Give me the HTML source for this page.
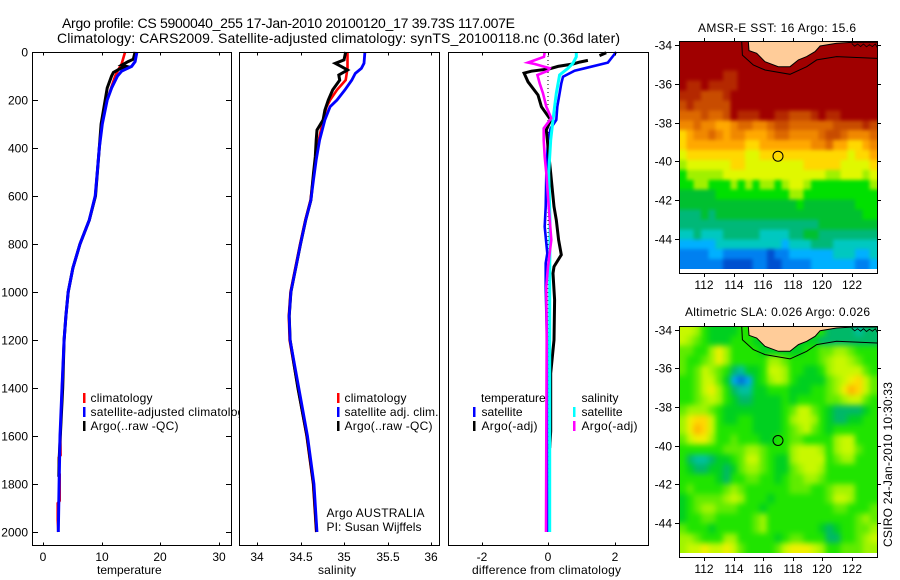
<!DOCTYPE html>
<html lang="en">
<head>
<meta charset="utf-8">
<title>Argo profile CS 5900040_255</title>
<style>
html,body{margin:0;padding:0;background:#fff;width:900px;height:580px;overflow:hidden}
svg{display:block}
text{font-family:"Liberation Sans",sans-serif;font-size:12px;fill:#000}
</style>
</head>
<body>
<svg id="figure" xmlns="http://www.w3.org/2000/svg" width="900" height="580" viewBox="0 0 900 580">
  <rect x="0" y="0" width="900" height="580" fill="#fff"/>
  <text x="62" y="28" style="font-size:14px" textLength="453" lengthAdjust="spacing">Argo profile: CS 5900040_255 17-Jan-2010 20100120_17 39.73S 117.007E</text>
  <text x="57" y="43" style="font-size:14px" textLength="563" lengthAdjust="spacing">Climatology: CARS2009. Satellite-adjusted climatology: synTS_20100118.nc (0.36d later)</text>

  <g id="panel-temp">
    <g id="temp-marks"></g>
    <g id="temp-axis"></g>
    <text x="97" y="574">temperature</text>
    <g>
      <rect x="83" y="393" width="2.5" height="10" fill="#f00"/>
      <text x="90.5" y="402" textLength="62" lengthAdjust="spacing">climatology</text>
      <rect x="83" y="407" width="2.5" height="10" fill="#00f"/>
      <text x="90.5" y="416" textLength="160" lengthAdjust="spacing">satellite-adjusted climatology</text>
      <rect x="83" y="421" width="2.5" height="10" fill="#000"/>
      <text x="90.5" y="430" textLength="88" lengthAdjust="spacing">Argo(..raw -QC)</text>
    </g>
  </g>

  <g id="panel-sal">
    <rect x="239" y="46" width="206" height="504" fill="#fff"/>
    <g id="sal-marks"></g>
    <g id="sal-axis"></g>
    <text x="318" y="574" textLength="38" lengthAdjust="spacing">salinity</text>
    <g>
      <rect x="337" y="393" width="2.5" height="10" fill="#f00"/>
      <text x="344.5" y="402" textLength="62" lengthAdjust="spacing">climatology</text>
      <rect x="337" y="407" width="2.5" height="10" fill="#00f"/>
      <text x="344.5" y="416" textLength="94" lengthAdjust="spacing">satellite adj. clim.</text>
      <rect x="337" y="421" width="2.5" height="10" fill="#000"/>
      <text x="344.5" y="430" textLength="88" lengthAdjust="spacing">Argo(..raw -QC)</text>
    </g>
    <text x="326.5" y="517" textLength="98" lengthAdjust="spacing">Argo AUSTRALIA</text>
    <text x="326.5" y="531" textLength="95" lengthAdjust="spacing">PI: Susan Wijffels</text>
  </g>

  <g id="panel-diff">
    <g id="diff-marks"></g>
    <g id="diff-axis"></g>
    <text x="472" y="574" textLength="149" lengthAdjust="spacing">difference from climatology</text>
    <g>
      <text x="481" y="402">temperature</text>
      <rect x="473" y="407" width="2.5" height="10" fill="#00f"/>
      <text x="481.5" y="416" textLength="41" lengthAdjust="spacing">satellite</text>
      <rect x="473" y="421" width="2.5" height="10" fill="#000"/>
      <text x="481.5" y="430" textLength="56" lengthAdjust="spacing">Argo(-adj)</text>
      <text x="581.5" y="402" textLength="37" lengthAdjust="spacing">salinity</text>
      <rect x="573" y="407" width="2.5" height="10" fill="#0ff"/>
      <text x="581.5" y="416" textLength="41" lengthAdjust="spacing">satellite</text>
      <rect x="573" y="421" width="2.5" height="10" fill="#f0f"/>
      <text x="581.5" y="430" textLength="56" lengthAdjust="spacing">Argo(-adj)</text>
    </g>
  </g>

  <g id="map-sst">
    <text x="698" y="32" textLength="158" lengthAdjust="spacing">AMSR-E SST: 16  Argo: 15.6</text>
  </g>
  <g id="map-sla">
    <text x="685" y="316" textLength="185" lengthAdjust="spacing">Altimetric SLA: 0.026  Argo: 0.026</text>
  </g>
  <text transform="translate(892,547) rotate(-90)" textLength="165" lengthAdjust="spacing">CSIRO 24-Jan-2010 10:30:33</text>
</svg>

<script>
// ---------- tick values ----------
var depthTicks = [0, 200, 400, 600, 800, 1000, 1200, 1400, 1600, 1800, 2000];
var tempTicks = [0, 10, 20, 30];
var salTicks = [34, 34.5, 35, 35.5, 36];
var salTickLabels = ['34', '34.5', '35', '35.5', '36'];
var diffTicks = [-2, 0, 2];
var lonTicks = [112, 114, 116, 118, 120, 122];
var latTicks = [-34, -36, -38, -40, -42, -44];

// ---------- temperature profiles ----------
var tempClimDepth = [0, 50, 75, 100, 150, 200, 300, 400, 600, 700, 800, 900, 1000, 1100, 1200, 1400, 1600, 1680, 1690, 1750, 1760, 1870, 1880, 1950, 2000];
var tempClim = [14.0, 13.4, 12.8, 12.3, 11.6, 10.95, 10.0, 9.6, 8.9, 7.9, 6.3, 5.1, 4.3, 3.9, 3.6, 3.24, 2.95, 3.0, 2.7, 2.7, 2.85, 2.85, 2.5, 2.5, 2.6];
var tempSatDepth = [0, 40, 60, 80, 100, 150, 200, 300, 400, 500, 600, 700, 800, 900, 1000, 1100, 1200, 1400, 1600, 1800, 2000];
var tempSat = [16.0, 15.7, 15.1, 13.4, 12.7, 11.7, 10.95, 10.1, 9.6, 9.25, 8.9, 7.9, 6.3, 5.1, 4.3, 3.9, 3.6, 3.24, 2.9, 2.75, 2.6];
var tempArgoDepth = [0, 30, 40, 55, 60, 70, 85, 100, 150, 200, 300, 400, 600, 700, 800, 900, 1000, 1100, 1200, 1400, 1550, 1700, 1770];
var tempArgo = [15.7, 15.4, 14.5, 13.4, 14.2, 13.1, 12.0, 11.7, 10.95, 10.6, 9.9, 9.6, 8.95, 7.9, 6.3, 5.1, 4.3, 3.9, 3.6, 3.35, 3.05, 2.75, 2.7];

// ---------- salinity profiles ----------
var salClimDepth = [0, 68, 117, 158, 200, 228, 283, 367, 450, 617, 700, 800, 1000, 1100, 1200, 1400, 1600, 1800, 2000];
var salClim = [35.04, 35.04, 35.02, 34.92, 34.84, 34.8, 34.76, 34.71, 34.67, 34.615, 34.555, 34.495, 34.385, 34.365, 34.375, 34.47, 34.57, 34.645, 34.68];
var salSatDepth = [0, 47, 68, 89, 117, 158, 200, 228, 283, 367, 450, 533, 617, 700, 800, 1000, 1100, 1200, 1400, 1600, 1800, 2000];
var salSat = [35.24, 35.23, 35.2, 35.13, 35.09, 35.01, 34.92, 34.84, 34.78, 34.72, 34.68, 34.65, 34.62, 34.56, 34.5, 34.39, 34.37, 34.38, 34.48, 34.58, 34.655, 34.69];
var salArgoDepth = [0, 33, 47, 61, 75, 96, 117, 158, 200, 242, 283, 325, 367, 436, 505, 617, 700, 800, 1000, 1100, 1200, 1400, 1600, 1800, 2000];
var salArgo = [35.02, 35.0, 34.9, 34.97, 35.04, 34.94, 34.95, 34.87, 34.82, 34.78, 34.76, 34.69, 34.68, 34.67, 34.65, 34.62, 34.56, 34.5, 34.39, 34.37, 34.38, 34.47, 34.575, 34.65, 34.685];

// ---------- difference profiles ----------
var diffZeroDepth = [0, 2000];
var diffZero = [0, 0];
var dTempSatDepth = [0, 44, 68, 78, 103, 131, 172, 228, 283, 318, 367, 505, 644, 728, 839, 880, 978, 1200, 1600, 2000];
var dTempSat = [2.05, 1.8, 1.1, 0.8, 0.45, 0.4, 0.35, 0.28, 0.25, 0.08, 0, -0.05, -0.07, -0.1, -0.02, -0.07, -0.07, -0.03, -0.03, -0.02];
var dTempArgoTopDepth = [3, 15];
var dTempArgoTop = [1.75, 1.55];
var dTempArgoDepth = [35, 42, 50, 60, 70, 80, 88, 124, 179, 228, 283, 325, 394, 505, 644, 700, 783, 845, 894, 922, 1033, 1200, 1339, 1580, 1650];
var dTempArgo = [1.2, 0.95, 0.75, 0.3, 0.05, -0.5, -0.72, -0.6, -0.3, -0.2, 0.08, -0.05, 0, 0.08, 0.18, 0.25, 0.32, 0.4, 0.18, 0.15, 0.2, 0.18, 0.08, 0.08, 0.05];
var dSalSatDepth = [0, 20, 47, 68, 96, 172, 228, 283, 367, 436, 505, 700, 1000, 1500, 2000];
var dSalSat = [0.85, 0.85, 0.75, 0.6, 0.35, 0.25, 0.2, 0.15, 0.08, 0.05, 0.02, 0.06, 0.05, 0.05, 0.05];
var dSalArgoDepth = [0, 20, 44, 50, 68, 78, 96, 131, 172, 228, 276, 318, 367, 436, 505, 644, 783, 894, 978, 1200, 1600, 2000];
var dSalArgo = [-0.1, -0.12, -0.6, -0.4, 0.05, 0, -0.32, -0.25, -0.15, -0.05, 0.1, -0.13, -0.13, -0.1, -0.05, 0.02, 0.1, 0, -0.05, -0.04, -0.05, -0.06];

// ---------- SST map levels (0 coldest .. 15 warmest) ----------
var sstColors = ['#0050d0','#0080f0','#00b0ff','#00c8c0','#00b878','#00c030','#00e000','#a0f000','#e0f800','#ffd800','#ffa800','#f08800','#dc6800','#c84c00','#b42800','#a00000'];
var sstLevels = [
[15,15,15,15,15,15,15,15,15,15,15,15,15,15,15,15,15,15,15,15,15,15,15,15,15,15,15],
[15,15,15,15,15,15,15,15,15,15,15,15,15,15,15,15,15,15,15,15,15,15,15,15,15,15,15],
[15,15,15,15,15,15,15,15,15,15,15,15,15,15,15,15,15,15,15,15,15,15,15,15,15,15,15],
[15,15,15,15,15,15,14,14,15,15,15,15,15,15,15,15,15,15,15,15,15,15,15,15,15,15,15],
[15,14,14,15,14,14,14,14,15,15,15,15,15,15,15,15,15,15,15,15,15,15,15,15,15,15,15],
[14,14,14,13,13,13,14,15,15,15,15,15,15,15,15,15,15,15,15,15,15,15,15,15,15,15,15],
[13,14,13,13,13,13,13,15,15,15,15,15,15,15,15,15,15,15,15,15,15,15,15,15,15,15,15],
[12,12,12,13,12,12,13,15,14,14,14,15,15,14,14,13,13,13,14,15,14,14,15,15,15,15,15],
[11,11,12,11,11,10,10,11,12,12,11,11,12,13,13,12,12,12,12,12,12,13,13,13,13,14,13],
[9,10,11,11,12,11,10,11,11,10,10,10,11,12,12,11,11,11,11,12,13,13,12,11,11,11,12],
[9,10,10,10,10,10,10,10,10,9,9,10,10,10,10,10,10,10,11,11,12,10,10,9,9,10,11],
[8,9,9,9,9,9,9,9,9,8,8,9,9,9,9,9,9,9,9,9,9,9,9,8,9,9,10],
[7,8,8,8,8,8,8,9,9,8,8,8,8,8,8,8,8,9,9,9,9,9,8,8,8,8,9],
[6,7,7,7,7,7,8,8,8,8,8,8,8,8,8,8,8,8,8,8,7,7,8,8,8,7,8],
[6,6,7,7,6,6,6,7,6,7,6,7,7,6,7,8,8,7,6,6,6,6,6,6,6,6,7],
[5,5,5,5,5,6,6,6,6,6,6,6,6,6,6,7,7,6,6,6,6,6,6,6,6,6,6],
[5,5,5,5,5,5,5,5,5,5,5,5,5,5,5,5,6,5,5,5,5,5,5,5,6,6,6],
[4,4,4,5,4,5,5,5,5,5,5,5,5,5,5,5,5,5,5,5,5,5,5,5,5,6,6],
[4,4,4,4,4,4,4,4,4,4,4,4,4,4,4,4,4,4,4,5,5,5,5,5,5,5,5],
[3,3,4,3,3,3,4,4,4,4,4,3,3,3,3,4,4,5,5,4,4,4,4,4,4,4,4],
[2,2,2,2,2,3,3,3,3,3,3,3,3,3,2,3,3,3,4,4,4,3,3,3,3,3,3],
[1,1,1,1,2,2,1,1,1,1,1,1,0,1,1,2,2,2,2,2,2,3,3,3,2,2,3],
[1,1,1,1,1,1,0,0,0,0,1,1,0,0,1,1,1,1,2,2,2,2,2,2,1,1,2]
];

// ---------- SLA map levels (0 lowest .. 11 highest) ----------
var slaColors = ['#0070d8','#00a8f0','#00c0a0','#00b868','#00d020','#20e400','#60ec00','#a0f400','#c8f800','#f0f000','#ffd800','#ffb400'];
var slaLevels = [
[8,8,7,5,4,4,4,4,5,5,5,5,5,5,5,5,5,5,5,5,3,3,3,3,2,3,3],
[8,7,6,5,4,4,4,5,5,5,4,4,4,4,4,4,4,4,4,3,3,3,3,3,3,3,3],
[6,6,5,5,7,9,7,5,5,5,5,4,4,4,4,4,4,5,5,6,6,7,7,6,5,5,5],
[6,5,5,6,7,9,7,5,5,5,5,5,7,7,6,5,5,5,5,6,7,8,8,7,6,5,5],
[6,5,6,8,7,6,5,3,2,4,4,5,8,8,7,5,5,4,4,5,7,8,8,8,8,6,5],
[5,5,6,8,8,6,4,1,0,1,4,5,7,8,7,5,4,4,4,4,6,7,8,9,10,8,6],
[5,5,6,8,9,7,5,3,2,2,4,4,5,5,5,4,4,4,5,5,6,7,9,11,10,8,6],
[5,5,6,7,8,7,5,4,3,3,4,4,4,4,5,4,5,5,5,5,6,6,7,8,8,6,5],
[6,7,7,7,6,5,4,4,4,4,4,4,4,4,5,6,8,8,6,5,4,3,3,3,3,4,5],
[7,9,10,10,8,5,4,4,5,5,4,4,4,4,5,7,8,8,7,5,4,3,3,4,4,5,5],
[7,9,11,10,8,5,5,5,5,5,4,4,4,4,5,6,7,8,6,5,4,5,5,5,5,5,5],
[6,8,9,9,7,5,5,6,5,5,5,4,4,5,5,6,6,5,5,5,5,7,8,8,5,5,5],
[5,5,5,5,5,5,6,6,6,7,7,6,5,5,5,7,8,8,8,7,5,7,8,8,6,5,5],
[5,3,2,2,3,4,4,5,6,8,8,6,5,4,4,7,8,8,8,8,5,6,7,7,5,5,5],
[5,4,3,3,4,4,3,4,6,7,7,6,5,4,4,6,7,8,8,7,5,5,5,5,5,5,5],
[5,5,5,5,5,4,3,5,5,6,6,5,5,4,5,6,6,7,7,6,5,5,5,5,5,5,5],
[5,6,5,5,5,5,6,7,6,5,5,5,5,5,5,6,6,6,5,5,6,7,7,7,5,5,5],
[4,5,6,6,6,6,7,8,7,5,5,5,4,5,5,5,5,5,5,5,6,8,8,7,5,5,5],
[4,5,6,7,7,6,6,6,5,5,5,4,5,5,5,5,5,5,5,5,5,6,6,5,5,5,6],
[4,5,5,6,6,5,5,5,5,5,6,7,5,5,5,5,5,5,5,5,5,5,5,5,6,7,6],
[6,5,5,5,4,5,5,5,5,5,6,7,5,5,5,5,5,5,5,4,3,4,5,5,6,6,7],
[7,7,6,5,5,5,7,7,5,5,5,5,5,4,5,6,6,5,5,5,3,3,5,5,6,7,8],
[7,8,8,9,8,8,9,8,6,5,5,5,5,6,8,9,9,9,8,7,5,5,6,6,6,7,7]
];

// ---------- geography ----------
var coastLon = [115.0, 115.05, 115.57, 116.13, 117.03, 117.82, 118.39, 118.95, 119.52, 119.86, 120.98, 122.11, 123.74];
var coastLat = [-33.81, -34.29, -34.43, -34.86, -35.12, -35.12, -34.77, -34.6, -34.34, -34.05, -33.91, -33.86, -33.86];
var shelfLon = [114.55, 114.6, 115.34, 116.13, 117.82, 118.95, 119.63, 120.98, 123.74];
var shelfLat = [-33.81, -34.52, -35.03, -35.29, -35.51, -35.12, -34.77, -34.6, -34.69];
var islandLon = [122.0, 122.2, 122.4, 122.6, 122.8, 123.0, 123.2, 123.4, 123.6, 123.74];
var islandLat = [-33.92, -34.06, -33.95, -34.08, -33.95, -34.1, -33.98, -34.08, -33.95, -34.15];
var floatLon = [117.007];
var floatLat = [-39.73];

// ---------- helpers ----------
var SVGNS = 'http://www.w3.org/2000/svg';
function node(tag, parent) {
  var el = document.createElementNS(SVGNS, tag);
  parent.appendChild(el);
  return el;
}
function linear(d0, d1, r0, r1) {
  return function (v) { return r0 + (v - d0) * (r1 - r0) / (d1 - d0); };
}
function axisLine(parent, x1, y1, x2, y2) {
  var el = node('line', parent);
  el.setAttribute('x1', x1);
  el.setAttribute('y1', y1);
  el.setAttribute('x2', x2);
  el.setAttribute('y2', y2);
  el.setAttribute('stroke', '#000');
  el.setAttribute('stroke-width', '1');
  el.setAttribute('shape-rendering', 'crispEdges');
  
  
  return el;
}
function label(parent, x, y, str, anchor, name) {
  var el = node('text', parent);
  el.setAttribute('x', x);
  el.setAttribute('y', y);
  el.setAttribute('text-anchor', anchor);
  el.textContent = str;
  
  
  return el;
}
function box(parent, x0, y0, x1, y1) {
  var el = node('rect', parent);
  el.setAttribute('x', x0);
  el.setAttribute('y', y0);
  el.setAttribute('width', x1 - x0);
  el.setAttribute('height', y1 - y0);
  el.setAttribute('fill', 'none');
  el.setAttribute('stroke', '#000');
  el.setAttribute('shape-rendering', 'crispEdges');
  
  
}
function profile(parent, xs, ys, depths, vals, color, width, name, dash) {
  var pts = [];
  for (var i = 0; i < depths.length; i++) {
    pts.push(xs(vals[i]).toFixed(1) + ',' + ys(depths[i]).toFixed(1));
  }
  var el = node('polyline', parent);
  el.setAttribute('points', pts.join(' '));
  el.setAttribute('fill', 'none');
  el.setAttribute('stroke', color);
  el.setAttribute('stroke-width', width);
  if (dash) { el.setAttribute('stroke-dasharray', dash); }
  
  
}

// ---------- profile panels ----------
var yDepth = linear(0, 2000, 52, 532);
var PT = 52.5, PB = 545.5;

var xTemp = linear(0, 30, 43, 219);
var xSal = linear(34, 36, 257, 431);
var xDiff = linear(-2, 2, 481.5, 614.5);

var tempMarks = document.getElementById('temp-marks');
profile(tempMarks, xTemp, yDepth, tempClimDepth, tempClim, '#f00', 2.6, 'temperature-climatology-line');
profile(tempMarks, xTemp, yDepth, tempArgoDepth, tempArgo, '#000', 3, 'temperature-argo-line');
profile(tempMarks, xTemp, yDepth, tempSatDepth, tempSat, '#00f', 3, 'temperature-satellite-line');

var salMarks = document.getElementById('sal-marks');
profile(salMarks, xSal, yDepth, salClimDepth, salClim, '#f00', 2.6, 'salinity-climatology-line');
profile(salMarks, xSal, yDepth, salArgoDepth, salArgo, '#000', 3, 'salinity-argo-line');
profile(salMarks, xSal, yDepth, salSatDepth, salSat, '#00f', 2.8, 'salinity-satellite-line');

var diffMarks = document.getElementById('diff-marks');
profile(diffMarks, xDiff, yDepth, diffZeroDepth, diffZero, '#000', 1, 'zero-reference-line', '1 3');
profile(diffMarks, xDiff, yDepth, dTempSatDepth, dTempSat, '#00f', 2.6, 'temperature-satellite-difference-line');
profile(diffMarks, xDiff, yDepth, dTempArgoTopDepth, dTempArgoTop, '#000', 3, 'temperature-argo-difference-line-top');
profile(diffMarks, xDiff, yDepth, dTempArgoDepth, dTempArgo, '#000', 3, 'temperature-argo-difference-line');
profile(diffMarks, xDiff, yDepth, dSalSatDepth, dSalSat, '#0ff', 3, 'salinity-satellite-difference-line');
profile(diffMarks, xDiff, yDepth, dSalArgoDepth, dSalArgo, '#f0f', 2.6, 'salinity-argo-difference-line');

function xAxis(parent, xs, ticks, labels, left, right) {
  box(parent, left, PT, right, PB);
  for (var i = 0; i < ticks.length; i++) {
    var x = Math.round(xs(ticks[i])) + 0.5;
    axisLine(parent, x, PT, x, PT + 3);
    axisLine(parent, x, PB, x, PB - 3);
    label(parent, x - 0.5, 561, labels[i], 'middle', 'x-axis-tick-label');
  }
}
var tempAxis = document.getElementById('temp-axis');
xAxis(tempAxis, xTemp, tempTicks, tempTicks.map(String), 32.5, 231.5);
for (var di = 0; di < depthTicks.length; di++) {
  var dy = Math.round(yDepth(depthTicks[di])) + 0.5;
  axisLine(tempAxis, 32.5, dy, 38, dy);
  axisLine(tempAxis, 231.5, dy, 226, dy);
  label(tempAxis, 28, dy + 4, String(depthTicks[di]), 'end', 'depth-axis-tick-label');
}
xAxis(document.getElementById('sal-axis'), xSal, salTicks, salTickLabels, 239.5, 439.5);
xAxis(document.getElementById('diff-axis'), xDiff, diffTicks, diffTicks.map(String), 448.5, 648.5);

// ---------- maps ----------
function drawMap(rootId, levels, colors, top, bottom, imageBottom, y34, y44, prefix, blurSize) {
  var root = document.getElementById(rootId);
  var left = 679, right = 877;
  var xLon = linear(112, 122, 704, 851.7);
  var yLat = linear(-34, -44, y34, y44);
  var clipId = prefix + '-clip';
  var blurId = prefix + '-blur';
  var defs = node('defs', root);
  var clip = node('clipPath', defs);
  clip.setAttribute('id', clipId);
  var clipRect = node('rect', clip);
  clipRect.setAttribute('x', left);
  clipRect.setAttribute('y', top);
  clipRect.setAttribute('width', right - left);
  clipRect.setAttribute('height', imageBottom - top);
  var blur = node('filter', defs);
  blur.setAttribute('id', blurId);
  blur.setAttribute('filterUnits', 'userSpaceOnUse');
  blur.setAttribute('x', left - 20);
  blur.setAttribute('y', top - 20);
  blur.setAttribute('width', right - left + 40);
  blur.setAttribute('height', imageBottom - top + 40);
  blur.setAttribute('color-interpolation-filters', 'sRGB');
  var gauss = node('feGaussianBlur', blur);
  gauss.setAttribute('stdDeviation', blurSize);

  var g = node('g', root);
  g.setAttribute('clip-path', 'url(#' + clipId + ')');
  
  

  var field = node('g', g);
  field.setAttribute('filter', 'url(#' + blurId + ')');
  
  

  var nRows = levels.length;
  var nCols = levels[0].length;
  var cw = (right - left) / nCols;
  var ch = (imageBottom - top) / nRows;
  var bleed = 14;
  for (var r = 0; r < nRows; r++) {
    for (var c = 0; c < nCols; c++) {
      var x0 = left + c * cw, x1 = x0 + cw + 0.5;
      var y0 = top + r * ch, y1 = y0 + ch + 0.5;
      if (c === 0) { x0 -= bleed; }
      if (c === nCols - 1) { x1 += bleed; }
      if (r === 0) { y0 -= bleed; }
      if (r === nRows - 1) { y1 += bleed; }
      var cell = node('rect', field);
      cell.setAttribute('x', x0.toFixed(2));
      cell.setAttribute('y', y0.toFixed(2));
      cell.setAttribute('width', (x1 - x0).toFixed(2));
      cell.setAttribute('height', (y1 - y0).toFixed(2));
      cell.setAttribute('fill', colors[levels[r][c]]);
      cell.setAttribute('shape-rendering', 'crispEdges');
      
      
    }
  }

  var landPts = [];
  var coastPts = [];
  for (var i = 0; i < coastLon.length; i++) {
    var p = xLon(coastLon[i]).toFixed(1) + ',' + yLat(coastLat[i]).toFixed(1);
    landPts.push(p);
    coastPts.push(p);
  }
  landPts.push(right + ',' + top);
  landPts.push(xLon(coastLon[0]).toFixed(1) + ',' + top);
  var land = node('polygon', g);
  land.setAttribute('points', landPts.join(' '));
  land.setAttribute('fill', '#ffcc99');
  
  

  var coast = node('polyline', g);
  coast.setAttribute('points', coastPts.join(' '));
  coast.setAttribute('fill', 'none');
  coast.setAttribute('stroke', '#000');
  
  

  var shelfPts = [];
  for (var s = 0; s < shelfLon.length; s++) {
    shelfPts.push(xLon(shelfLon[s]).toFixed(1) + ',' + yLat(shelfLat[s]).toFixed(1));
  }
  var shelf = node('polyline', g);
  shelf.setAttribute('points', shelfPts.join(' '));
  shelf.setAttribute('fill', 'none');
  shelf.setAttribute('stroke', '#000');
  
  

  var islandPts = [];
  for (var k = 0; k < islandLon.length; k++) {
    islandPts.push(xLon(islandLon[k]).toFixed(1) + ',' + yLat(islandLat[k]).toFixed(1));
  }
  var isl = node('polyline', g);
  isl.setAttribute('points', islandPts.join(' '));
  isl.setAttribute('fill', 'none');
  isl.setAttribute('stroke', '#000');
  isl.setAttribute('stroke-width', '0.8');
  
  

  var mark = node('circle', root);
  mark.setAttribute('cx', xLon(floatLon[0]).toFixed(1));
  mark.setAttribute('cy', yLat(floatLat[0]).toFixed(1));
  mark.setAttribute('r', '5');
  mark.setAttribute('fill', 'none');
  mark.setAttribute('stroke', '#000');
  
  

  var axes = node('g', root);
  
  
  box(axes, left + 0.5, top + 0.5, right + 0.5, bottom + 0.5);
  for (var a = 0; a < lonTicks.length; a++) {
    var tx = Math.round(xLon(lonTicks[a])) + 0.5;
    axisLine(axes, tx, top + 0.5, tx, top - 3);
    axisLine(axes, tx, bottom + 0.5, tx, bottom + 4);
    label(axes, tx - 0.5, bottom + 16, String(lonTicks[a]), 'middle', 'longitude-tick-label');
  }
  for (var b = 0; b < latTicks.length; b++) {
    var ty = Math.round(yLat(latTicks[b])) + 0.5;
    axisLine(axes, left + 0.5, ty, left - 4, ty);
    axisLine(axes, right + 0.5, ty, right + 4, ty);
    label(axes, 672, ty + 4, String(latTicks[b]), 'end', 'latitude-tick-label');
  }
}
drawMap('map-sst', sstLevels, sstColors, 41, 273, 269, 45, 239, 'sst', 1.8);
drawMap('map-sla', slaLevels, slaColors, 326, 557, 553, 329.7, 523, 'sla', 3);
</script>
</body>
</html>
